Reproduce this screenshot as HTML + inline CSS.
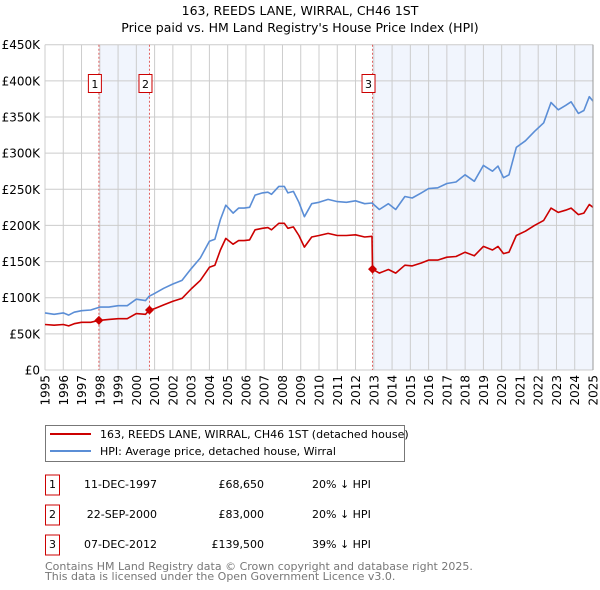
<!DOCTYPE html>
<html><head><meta charset="utf-8"><style>
body{margin:0;background:#fff;}
svg{display:block;font-family:"DejaVu Sans","Liberation Sans",sans-serif;}
</style></head><body>
<svg id="chart" width="600" height="590" viewBox="0 0 600 590">
<text x="300" y="15" text-anchor="middle" font-size="12.5">163, REEDS LANE, WIRRAL, CH46 1ST</text>
<text x="300" y="32" text-anchor="middle" font-size="12.5">Price paid vs. HM Land Registry's House Price Index (HPI)</text>
<g id="plot"></g>
<g>
<rect x="45.5" y="425.5" width="359" height="36" fill="#fff" stroke="#777"/>
<line x1="50" y1="434" x2="91" y2="434" stroke="#cc0000" stroke-width="2"/>
<text x="100" y="438" font-size="11">163, REEDS LANE, WIRRAL, CH46 1ST (detached house)</text>
<line x1="50" y1="451" x2="91" y2="451" stroke="#5b8ed6" stroke-width="2"/>
<text x="100" y="455" font-size="11">HPI: Average price, detached house, Wirral</text>
</g>
<g id="table" font-size="11"></g>
<text x="45" y="570" font-size="11" fill="#777">Contains HM Land Registry data © Crown copyright and database right 2025.</text>
<text x="45" y="580" font-size="11" fill="#777">This data is licensed under the Open Government Licence v3.0.</text>
</svg>
<script>
const years=[1995,1996,1997,1998,1999,2000,2001,2002,2003,2004,2005,2006,2007,2008,2009,2010,2011,2012,2013,2014,2015,2016,2017,2018,2019,2020,2021,2022,2023,2024,2025];
const yTicks=[0,50,100,150,200,250,300,350,400,450];
const yTickLabels=["£0","£50K","£100K","£150K","£200K","£250K","£300K","£350K","£400K","£450K"];
const hpiT=[1995,1995.5,1996,1996.3,1996.6,1997,1997.5,1998,1998.5,1999,1999.5,2000,2000.5,2000.7,2001,2001.5,2002,2002.5,2003,2003.5,2004,2004.3,2004.6,2004.9,2005.3,2005.6,2005.9,2006.2,2006.5,2006.9,2007.2,2007.4,2007.8,2008.1,2008.3,2008.6,2008.9,2009.2,2009.6,2010,2010.5,2011,2011.5,2012,2012.5,2012.9,2013.3,2013.8,2014.2,2014.7,2015.1,2015.6,2016,2016.5,2017,2017.5,2018,2018.5,2019,2019.5,2019.8,2020.1,2020.4,2020.8,2021.3,2021.8,2022.3,2022.7,2023.1,2023.5,2023.8,2024.2,2024.5,2024.8,2025];
const hpiV=[79,77,79,76,80,82,83,87,87,89,89,98,96,102,106,113,119,124,140,155,178,181,208,228,217,224,224,225,242,245,246,243,254,254,245,247,232,212,230,232,236,233,232,234,230,231,222,230,222,240,238,245,251,252,258,260,270,261,283,275,282,266,270,308,317,330,342,370,360,366,371,355,359,378,372];
const priceT=[1995,1995.5,1996,1996.3,1996.6,1997,1997.5,1997.95,1998.5,1999,1999.5,2000,2000.5,2000.72,2001,2001.5,2002,2002.5,2003,2003.5,2004,2004.3,2004.6,2004.9,2005.3,2005.6,2005.9,2006.2,2006.5,2006.9,2007.2,2007.4,2007.8,2008.1,2008.3,2008.6,2008.9,2009.2,2009.6,2010,2010.5,2011,2011.5,2012,2012.5,2012.9,2012.93,2013.3,2013.8,2014.2,2014.7,2015.1,2015.6,2016,2016.5,2017,2017.5,2018,2018.5,2019,2019.5,2019.8,2020.1,2020.4,2020.8,2021.3,2021.8,2022.3,2022.7,2023.1,2023.5,2023.8,2024.2,2024.5,2024.8,2025];
const priceV=[63,62,63,61,64,66,66,68.65,70,71,71,78,77,83,85,90,95,99,112,124,142,145,166,182,174,179,179,180,194,196,197,194,203,203,196,198,186,170,184,186,189,186,186,187,184,185,139.5,134,139,134,145,144,148,152,152,156,157,163,158,171,166,171,161,163,186,192,200,207,224,218,221,224,215,217,229,225];
const saleLabels=["1","2","3"];
const saleT=[1997.95,2000.72,2012.93];
const saleV=[68.65,83,139.5];
const saleDates=["11-DEC-1997","22-SEP-2000","07-DEC-2012"];
const salePrices=["£68,650","£83,000","£139,500"];
const saleDiffs=["20% ↓ HPI","20% ↓ HPI","39% ↓ HPI"];

const X0=45,X1=593,Y0=370,Y1=44.7;
const x=t=>X0+(t-1995)/(2025-1995)*(X1-X0);
const y=v=>Y0-v/450*(Y0-Y1);
const NS="http://www.w3.org/2000/svg";
const plot=document.getElementById('plot');
function mk(tag,attrs,parent){const e=document.createElementNS(NS,tag);for(const k in attrs)e.setAttribute(k,attrs[k]);(parent||plot).appendChild(e);return e;}

// shading
let s=mk('rect',{x:x(saleT[0]),y:Y1,width:x(saleT[1])-x(saleT[0]),height:Y0-Y1,fill:'#eef3fc',opacity:0.8});


s=mk('rect',{x:x(saleT[2]),y:Y1,width:X1-x(saleT[2]),height:Y0-Y1,fill:'#eef3fc',opacity:0.8});



// grid
yTicks.forEach((v,i)=>{
 const l=mk('line',{x1:X0,x2:X1,y1:y(v),y2:y(v),stroke:'#cccccc'});
 
 
 const t=mk('text',{x:X0-5,y:y(v)+4.5,'text-anchor':'end','font-size':'12'});
 t.textContent=yTickLabels[i];
 
 
});
years.forEach(yr=>{
 const l=mk('line',{x1:x(yr),x2:x(yr),y1:Y1,y2:Y0,stroke:'#cccccc'});
 
 
 const t=mk('text',{x:0,y:0,'font-size':'12','text-anchor':'end',transform:`translate(${x(yr)+4.5},${Y0+5}) rotate(-90)`});
 t.textContent=yr;
 
 
});
// sale vertical lines
saleT.forEach((t,i)=>{
 const l=mk('line',{x1:x(t),x2:x(t),y1:Y1,y2:Y0,stroke:'#e06060','stroke-dasharray':'2,2'});
 
 
});
function path(T,V,color,name){
 const d=T.map((t,i)=>(i?'L':'M')+x(t).toFixed(1)+','+y(V[i]).toFixed(1)).join('');
 const p=mk('path',{d:d,fill:'none',stroke:color,'stroke-width':1.6,'stroke-linejoin':'round'});
 
 
}
path(hpiT,hpiV,'#5b8ed6','hpi-line');
path(priceT,priceV,'#cc0000','price-line');
saleT.forEach((t,i)=>{
 const cx=x(t),cy=y(saleV[i]);
 const m=mk('path',{d:`M${cx},${cy-4.5}L${cx+4.5},${cy}L${cx},${cy+4.5}L${cx-4.5},${cy}Z`,fill:'#cc0000'});
 
 
 const g=mk('g',{});
 
 
 mk('rect',{x:cx-10.5,y:74.5,width:13,height:18,fill:'#fff',stroke:'#cc0000'},g);
 const tx=mk('text',{x:cx-4,y:88,'font-size':'11','text-anchor':'middle'},g);
 tx.textContent=saleLabels[i];
});
// border
mk('line',{x1:X1,x2:X1,y1:Y1,y2:Y0,stroke:'#999'});

// table
const tbl=document.getElementById('table');
saleLabels.forEach((lb,i)=>{
 const cy=485+i*30;
 const g=mk('g',{},tbl);
 
 
 mk('rect',{x:45.5,y:cy-10,width:14,height:20,fill:'#fff',stroke:'#cc0000'},g);
 let t=mk('text',{x:52.5,y:cy+3,'text-anchor':'middle'},g);t.textContent=lb;
 t=mk('text',{x:157,y:cy+3,'text-anchor':'end'},g);t.textContent=saleDates[i];
 t=mk('text',{x:264,y:cy+3,'text-anchor':'end'},g);t.textContent=salePrices[i];
 t=mk('text',{x:312,y:cy+3},g);t.textContent=saleDiffs[i];
});
</script>
</body></html>
